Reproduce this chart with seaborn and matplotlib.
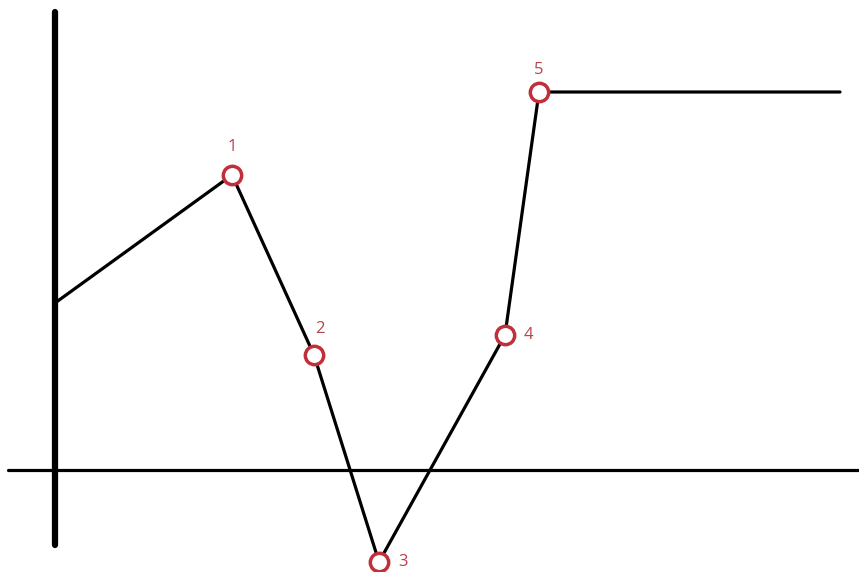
import matplotlib
matplotlib.use("Agg")
import matplotlib.pyplot as plt
import seaborn as sns
import pandas as pd

# path of the curve (x = time, y = value), axes cross at (0, 0)
path_x = [0, 177, 259, 324, 450, 484, 785]
path_y = [167, 295, 115, -92, 135, 378, 378]

# numbered points on the curve
point_labels = ["1", "2", "3", "4", "5"]
point_x = [177, 259, 324, 450, 484]
point_y = [295, 115, -92, 135, 378]

line_df = pd.DataFrame({"x": path_x, "y": path_y})
pts_df = pd.DataFrame({"x": point_x, "y": point_y, "label": point_labels})

sns.set_style("white")
fig = plt.figure(figsize=(8.59, 5.72), dpi=100)
ax = fig.add_axes([0, 0, 1, 1])

red = "#c0303a"

# hand drawn style axes
ax.plot([0, 0], [458, -75], color="black", lw=4.5, solid_capstyle="round", zorder=1)
ax.plot([-47, 804], [0, 0], color="black", lw=2.3, zorder=1)

sns.lineplot(data=line_df, x="x", y="y", sort=False, color="black", lw=2.3,
             ax=ax, zorder=2)
sns.scatterplot(data=pts_df, x="x", y="y", s=175, facecolor="white",
                edgecolor=red, linewidth=2.5, ax=ax, zorder=3)

# label offsets in points
offsets = [(0, 20), (4, 19), (17, 0), (17, 0), (0, 16)]
for (lab, px, py), off in zip(zip(point_labels, point_x, point_y), offsets):
    ax.annotate(lab, (px, py), xytext=off, textcoords="offset points",
                ha="center", va="center", color="#b8414b", fontsize=12,
                family="Open Sans")

ax.set_xlim(-55, 804)
ax.set_ylim(-102, 470)
ax.axis("off")

fig.savefig("out.png", dpi=100, facecolor="white")
